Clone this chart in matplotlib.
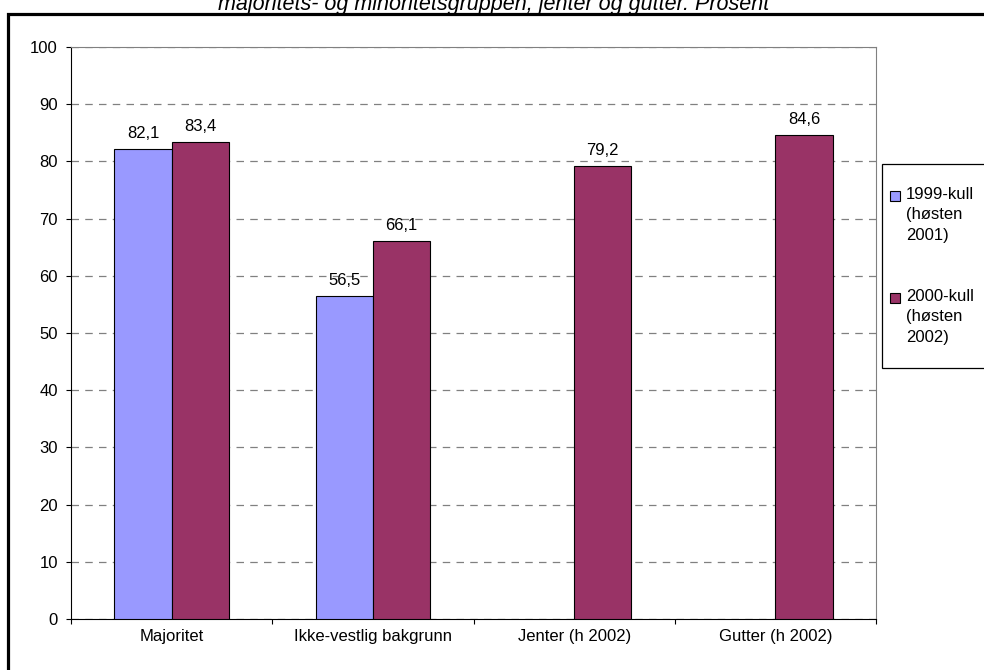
import numpy as np
import matplotlib.pyplot as plt
from matplotlib.patches import Rectangle

plt.rcParams['font.family'] = ['Liberation Sans', 'DejaVu Sans']

categories = ["Majoritet", "Ikke-vestlig bakgrunn", "Jenter (h 2002)", "Gutter (h 2002)"]
kull_1999 = [82.1, 56.5, None, None]
kull_2000 = [83.4, 66.1, 79.2, 84.6]
series_labels = ["1999-kull\n(høsten\n2001)", "2000-kull\n(høsten\n2002)"]
title = "majoritets- og minoritetsgruppen, jenter og gutter. Prosent"

c_blue = "#9999FF"
c_red = "#993366"

W, H = 984, 670
fig = plt.figure(figsize=(9.84, 6.7), dpi=100)
ax = fig.add_axes([71 / W, 1 - 619 / H, (876 - 71) / W, (619 - 47) / H])


def label(xpos, val):
    ax.annotate(f"{val:.1f}".replace(".", ","), (xpos, val), xytext=(0, 8),
                textcoords="offset points", ha="center", va="baseline", fontsize=12)


x = np.arange(len(categories))
w = 0.285
for i in range(len(categories)):
    if kull_1999[i] is not None:
        ax.bar(x[i] - w / 2, kull_1999[i], w, color=c_blue, edgecolor="black", linewidth=0.8, zorder=3)
        label(x[i] - w / 2, kull_1999[i])
    ax.bar(x[i] + w / 2, kull_2000[i], w, color=c_red, edgecolor="black", linewidth=0.8, zorder=3)
    label(x[i] + w / 2, kull_2000[i])

ax.set_xlim(-0.5, len(categories) - 0.5)
ax.set_ylim(0, 100)
ax.set_yticks(range(0, 101, 10))
ax.set_xticks(np.arange(-0.5, len(categories), 1.0))
ax.set_xticklabels([])
ax.set_xticks(x, minor=True)
ax.set_xticklabels(categories, minor=True, fontsize=12)
ax.tick_params(axis="x", which="minor", length=0, pad=7)
ax.tick_params(axis="x", which="major", direction="out", length=3.5, color="black")
ax.tick_params(axis="y", direction="out", length=3.5, labelsize=12, pad=6)
ax.yaxis.grid(True, linestyle=(0, (6, 5)), color="#808080", linewidth=0.9, zorder=0)
ax.set_axisbelow(True)
for s in ["top", "right"]:
    ax.spines[s].set_color("#808080")

# legend drawn by hand so the swatch sits on the first text line
px = lambda xx, yy: (xx / W, 1 - yy / H)
fig.patches.append(Rectangle(px(882, 368), (995 - 882) / W, (368 - 164) / H,
                             transform=fig.transFigure, facecolor="white",
                             edgecolor="black", linewidth=0.9))
for col, lab, ytop in [(c_blue, series_labels[0], 191), (c_red, series_labels[1], 293)]:
    fig.patches.append(Rectangle(px(890, ytop + 10), 10 / W, 10 / H, transform=fig.transFigure,
                                 facecolor=col, edgecolor="black", linewidth=0.8))
    fig.text(*px(906, ytop - 4), lab, ha="left", va="top", fontsize=12, linespacing=1.45)

fig.text(0.502, 1 - 10 / H, title, ha="center", va="baseline", fontsize=15.5, style="italic")
fig.patches.append(Rectangle(px(7.5, 700), 1.2, (700 - 14) / H, transform=fig.transFigure,
                             fill=False, edgecolor="black", linewidth=2.3))

fig.savefig("out.png", dpi=100)
